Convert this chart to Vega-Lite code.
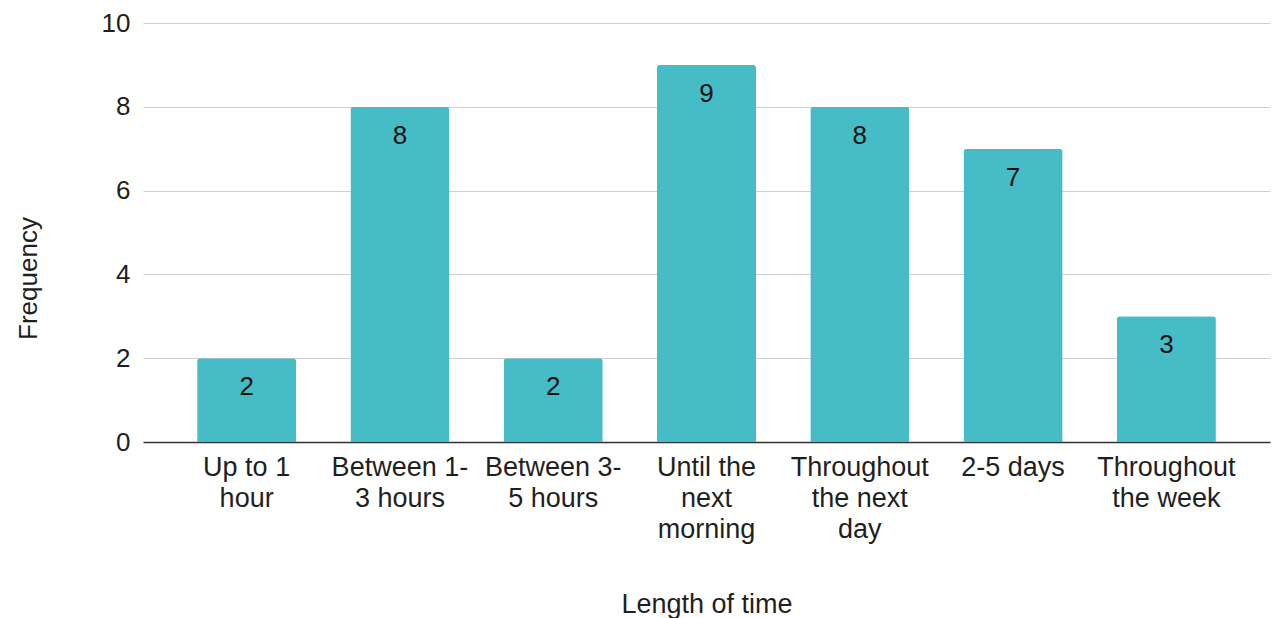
{
  "$schema": "https://vega.github.io/schema/vega-lite/v6.json",
  "width": 1127,
  "height": 419,
  "autosize": {"type": "none"},
  "padding": {"left": 143, "top": 23, "right": 3, "bottom": 176},
  "background": "white",
  "config": {
    "view": {"stroke": null},
    "font": "Liberation Sans",
    "axis": {
      "labelFont": "Liberation Sans",
      "titleFont": "Liberation Sans",
      "labelFontSize": 26,
      "titleFontSize": 26,
      "titleFontWeight": "normal",
      "labelColor": "#1f1f1f",
      "titleColor": "#1f1f1f"
    }
  },
  "data": {
    "values": [
      {"length": "Up to 1 hour", "frequency": 2},
      {"length": "Between 1-3 hours", "frequency": 8},
      {"length": "Between 3-5 hours", "frequency": 2},
      {"length": "Until the next morning", "frequency": 9},
      {"length": "Throughout the next day", "frequency": 8},
      {"length": "2-5 days", "frequency": 7},
      {"length": "Throughout the week", "frequency": 3}
    ]
  },
  "encoding": {
    "x": {
      "field": "length",
      "type": "nominal",
      "sort": null,
      "scale": {"paddingInner": 0.354, "paddingOuter": 0.353},
      "axis": {
        "title": "Length of time",
        "labelAngle": 0,
        "ticks": false,
        "grid": false,
        "domain": true,
        "domainColor": "#333333",
        "domainWidth": 1.5,
        "labelFontSize": 27,
        "titleFontSize": 27,
        "labelPadding": 12,
        "labelBaseline": "top",
        "labelLineHeight": 31,
        "labelLimit": 0,
        "labelExpr": "datum.value == 'Up to 1 hour' ? ['Up to 1', 'hour'] : datum.value == 'Between 1-3 hours' ? ['Between 1-', '3 hours'] : datum.value == 'Between 3-5 hours' ? ['Between 3-', '5 hours'] : datum.value == 'Until the next morning' ? ['Until the', 'next', 'morning'] : datum.value == 'Throughout the next day' ? ['Throughout', 'the next', 'day'] : datum.value == 'Throughout the week' ? ['Throughout', 'the week'] : datum.value",
        "titleBaseline": "middle",
        "titleY": 162
      }
    },
    "y": {
      "field": "frequency",
      "type": "quantitative",
      "scale": {"domain": [0, 10]},
      "axis": {
        "title": "Frequency",
        "values": [0, 2, 4, 6, 8, 10],
        "ticks": false,
        "domain": false,
        "grid": true,
        "gridColor": "#d0d0d0",
        "gridWidth": 1.2,
        "labelPadding": 13,
        "titleAngle": -90,
        "titleBaseline": "middle",
        "titleAlign": "center",
        "titleX": -115,
        "titleY": 255
      }
    }
  },
  "layer": [
    {
      "mark": {
        "type": "bar",
        "color": "#46BDC6",
        "cornerRadiusTopLeft": 3,
        "cornerRadiusTopRight": 3
      }
    },
    {
      "mark": {
        "type": "text",
        "baseline": "middle",
        "align": "center",
        "dy": 29,
        "fontSize": 26,
        "font": "Liberation Sans",
        "color": "#111111"
      },
      "encoding": {
        "text": {"field": "frequency", "type": "quantitative"}
      }
    }
  ]
}
